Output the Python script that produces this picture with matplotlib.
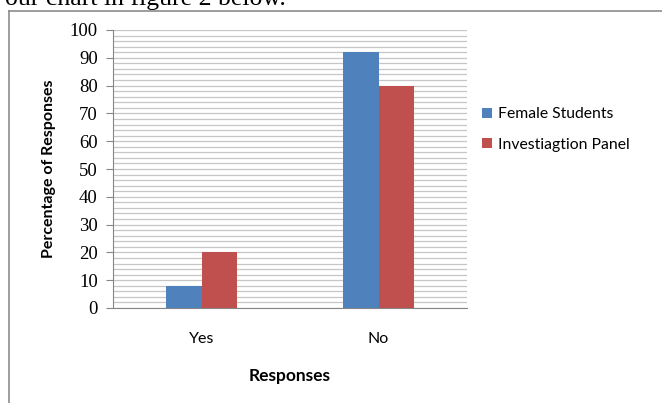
import numpy as np
import matplotlib.pyplot as plt
from matplotlib.lines import Line2D

categories = ['Yes', 'No']
female_students = [8, 92]
investigation_panel = [20, 80]
series_labels = ['Female Students', 'Investiagtion Panel']
y_ticks = list(range(0, 101, 10))

blue = '#4F81BD'
red = '#C0504D'
sans = ['Lato', 'DejaVu Sans']
serif = ['Liberation Serif', 'DejaVu Serif']

fig = plt.figure(figsize=(6.62, 4.03), dpi=100)
W, H = 662, 403

# outer chart frame (only top and left visible in the crop)
fig.add_artist(Line2D([9 / W, 1], [1 - 11 / H, 1 - 11 / H], color='#8c8c8c', lw=1.2))
fig.add_artist(Line2D([9 / W, 9 / W], [0, 1 - 11 / H], color='#8c8c8c', lw=1.2))

# clipped line of body text above the chart
fig.text(5 / W, 1 - 5 / H, 'our chart in figure 2 below.', family=serif,
         fontsize=18.5, va='baseline', ha='left')

ax = fig.add_axes([113 / W, 1 - 308 / H, (467 - 113) / W, (308 - 30) / H])

x = np.arange(len(categories))
w = 0.2
ax.bar(x - w / 2, female_students, w, color=blue, label=series_labels[0], zorder=3)
ax.bar(x + w / 2, investigation_panel, w, color=red, label=series_labels[1], zorder=3)

ax.set_xlim(-0.5, 1.5)
ax.set_ylim(0, 100)
ax.set_yticks(y_ticks)
ax.set_yticks(np.arange(0, 101, 2), minor=True)
ax.grid(axis='y', which='both', color='#c6c6c6', lw=0.9, zorder=0)
ax.set_axisbelow(True)

for s in ['top', 'right']:
    ax.spines[s].set_visible(False)
for s in ['left', 'bottom']:
    ax.spines[s].set_color('#868686')
ax.tick_params(axis='y', which='major', length=5, color='#868686', direction='out', pad=6)
ax.tick_params(axis='y', which='minor', length=0)
ax.tick_params(axis='x', length=0, pad=17)

ax.set_yticklabels([str(t) for t in y_ticks], family=serif, fontsize=13.5)
ax.set_xticks(x)
ax.set_xticklabels(categories, family=sans, fontsize=11.5)

ax.set_ylabel('Percentage of Responses', family=sans, fontweight='bold', fontsize=11.5, labelpad=10)
ax.set_xlabel('Responses', family=sans, fontweight='bold', fontsize=12.5, labelpad=16)

fig.legend(loc='upper left', bbox_to_anchor=(468 / W, 1 - 93 / H), frameon=False,
           prop={'family': sans, 'size': 11.3}, handlelength=0.6, handleheight=0.6,
           handletextpad=0.4, labelspacing=1.05)

fig.savefig('out.png', dpi=100)
